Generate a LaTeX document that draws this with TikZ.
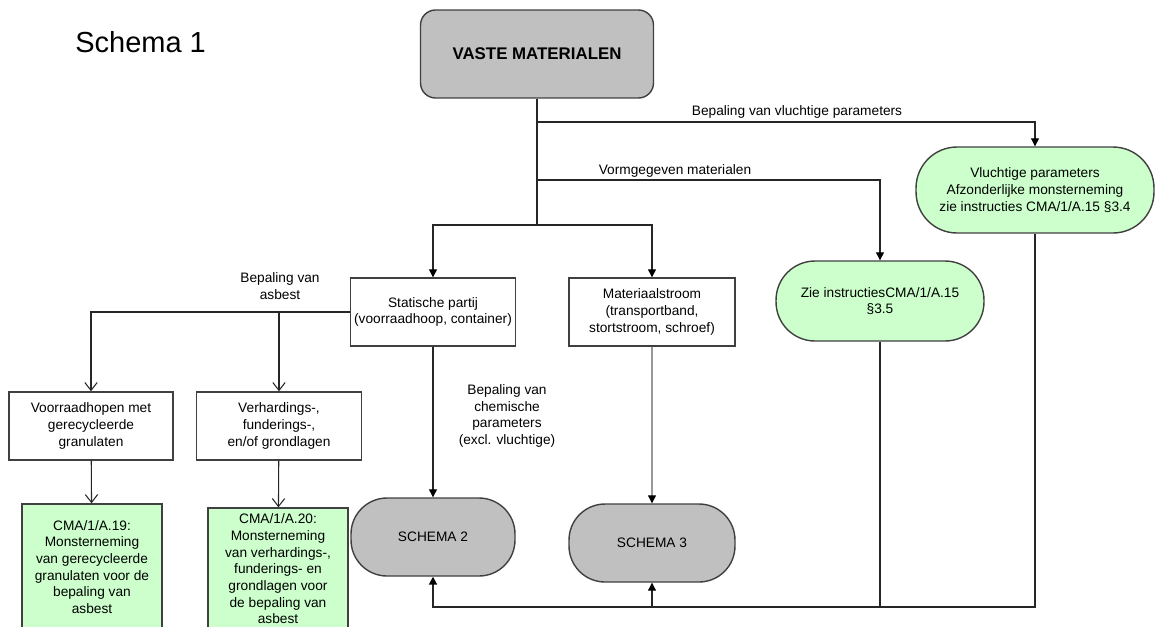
\documentclass[tikz,border=0pt]{standalone}
\usepackage{fontspec}
\setmainfont{Liberation Sans}
\usetikzlibrary{arrows.meta,positioning,calc}
\definecolor{boxgreen}{HTML}{CCFFCC}
\definecolor{boxgray}{HTML}{C0C0C0}

\begin{document}
\begin{tikzpicture}[x=.02cm, y=-.02cm,
    every node/.style={font=\fontsize{7.8}{9.5}\selectfont, align=center, inner sep=1pt},
    box/.style={draw=black!75, line width=.8pt},
    ln/.style={line width=.6pt, draw=black!85},
    arr/.style={ln, -{Triangle[length=4.5pt,width=4.5pt,color=black]}},
    openarr/.style={ln, -{Straight Barb[length=4.5pt,width=7pt]}}]
\useasboundingbox (0,0) rectangle (1155,626);
\clip (0,0) rectangle (1155,626);

\node[anchor=west, inner sep=0, font=\fontsize{16.5}{20}\selectfont] (title) at (75,42) {Schema 1};

% top
\node[box, fill=boxgray, rounded corners=.3cm, minimum width=4.66cm, minimum height=1.76cm,
      font=\fontsize{9.6}{11}\selectfont\bfseries] (vaste) at (537,54) {VASTE MATERIALEN};

% right hand side
\node[box, fill=boxgreen, rounded corners=.82cm, minimum width=4.76cm, minimum height=1.72cm] (vlucht) at (1035,190)
  {Vluchtige parameters\\Afzonderlijke monsterneming\\zie instructies CMA/1/A.15 §3.4};
\node[box, fill=boxgreen, rounded corners=.78cm, minimum width=4.16cm, minimum height=1.6cm] (zie) at (880,301)
  {Zie instructiesCMA/1/A.15\\§3.5};

% middle
\node[box, minimum width=3.3cm, minimum height=1.36cm] (statisch) at (433,312)
  {Statische partij\\(voorraadhoop, container)};
\node[box, minimum width=3.32cm, minimum height=1.36cm] (materiaal) at (652,312)
  {Materiaalstroom\\(transportband,\\stortstroom, schroef)};
\node[box, fill=boxgray, rounded corners=.72cm, minimum width=3.28cm, minimum height=1.56cm] (schema2) at (433,537) {SCHEMA 2};
\node[box, fill=boxgray, rounded corners=.72cm, minimum width=3.32cm, minimum height=1.56cm] (schema3) at (652,543) {SCHEMA 3};

% asbest
\node[box, minimum width=3.28cm, minimum height=1.36cm] (voorraad) at (91,426)
  {Voorraadhopen met\\gerecycleerde\\granulaten};
\node[box, minimum width=3.3cm, minimum height=1.36cm] (verhard) at (279,426)
  {Verhardings-,\\funderings-,\\en/of grondlagen};
\node[box, fill=boxgreen, minimum width=2.8cm, minimum height=2.52cm] (cma19) at (92,567)
  {CMA/1/A.19:\\Monsterneming\\van gerecycleerde\\granulaten voor de\\bepaling van\\asbest};
\node[box, fill=boxgreen, minimum width=2.8cm, minimum height=2.44cm] (cma20) at (278,569)
  {CMA/1/A.20:\\Monsterneming\\van verhardings-,\\funderings- en\\grondlagen voor\\de bepaling van\\asbest};

% labels
\node (lvlucht) at (797,112) {Bepaling van vluchtige parameters};
\node (lvorm) at (675,171) {Vormgegeven materialen};
\node (lasbest) at (280,286) {Bepaling van\\asbest};
\node (lchem) at (507,416) {Bepaling van\\chemische\\parameters\\(excl. vluchtige)};

\coordinate (jv) at (537,122);
\coordinate (jf) at (537,180);
\coordinate (js) at (537,225);
\coordinate (jb) at (1035,607);

\draw[ln] (vaste) -- (js);
\draw[arr] (jv) -| (vlucht);
\draw[arr] (jf) -| (zie);
\draw[arr] (js) -| (statisch);
\draw[arr] (js) -| (materiaal);

\draw[openarr] (statisch.west) -| (voorraad);
\draw[openarr] (statisch.west -| verhard) -- (verhard);
\draw[openarr] (voorraad) -- (cma19);
\draw[openarr] (verhard) -- (cma20);

\draw[arr] (statisch) -- (schema2);
\draw[arr, draw=black!40] (materiaal) -- (schema3);

% back to schema 2 and 3
\draw[arr, line width=1pt] (vlucht) -- (jb) -| (schema2);
\draw[ln] (zie) -- (zie |- jb);
\draw[arr] (schema3 |- jb) -- (schema3);
\end{tikzpicture}
\end{document}
